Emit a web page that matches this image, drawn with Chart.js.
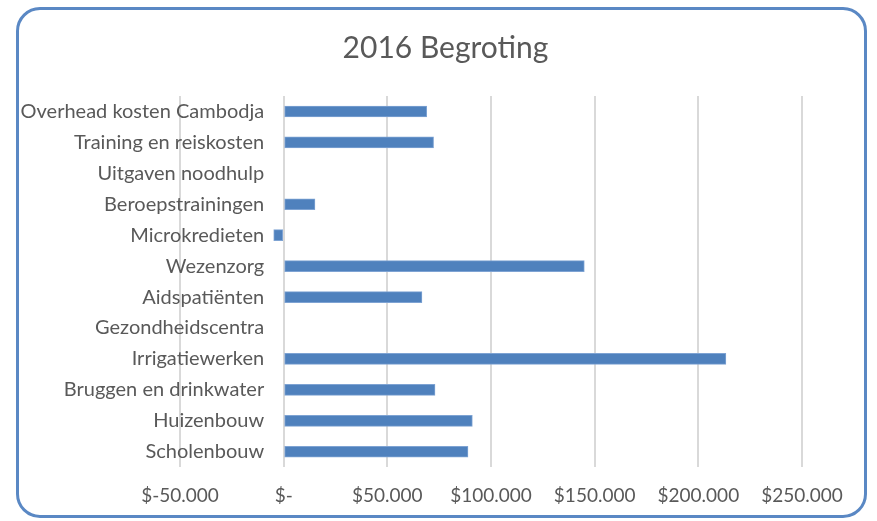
<!DOCTYPE html>
<html>
<head>
<meta charset="utf-8">
<script src="https://cdn.jsdelivr.net/npm/chart.js@4.4.1/dist/chart.umd.min.js"></script>
<style>
    html, body { margin: 0; padding: 0; background: #fff; }
    #wrap { position: relative; width: 877px; height: 521px; }
    #frame {
        position: absolute; left: 16px; top: 7px; width: 851px; height: 511px;
        box-sizing: border-box; border: 3px solid #5A88C4; border-radius: 24px;
        pointer-events: none;
    }
</style>
</head>
<body>
<div id="wrap">
    <canvas id="chart"></canvas>
    <div id="frame"></div>
</div>
<script>
// Chart data
const categories = [
    'Overhead kosten Cambodja',
    'Training en reiskosten',
    'Uitgaven noodhulp',
    'Beroepstrainingen',
    'Microkredieten',
    'Wezenzorg',
    'Aidspatiënten',
    'Gezondheidscentra',
    'Irrigatiewerken',
    'Bruggen en drinkwater',
    'Huizenbouw',
    'Scholenbouw'
];
const budget = [69000, 72300, 0, 15100, -4800, 145000, 66700, 0, 213300, 73000, 91000, 88900];
const axisMin = -50000;
const axisMax = 250000;
const axisStep = 50000;

const textColor = '#595959';
const fontFamily = 'Lato, "Open Sans", sans-serif';

// "$-50.000", "$-", "$100.000"
function formatDollar(value) {
    if (value === 0) return '$-';
    const sign = value < 0 ? '-' : '';
    const digits = Math.abs(value).toString().replace(/\B(?=(\d{3})+(?!\d))/g, '.');
    return '$' + sign + digits;
}

// empty side axes, only there to reserve room so the title stays centred on the whole chart
function spacerAxis(side, width) {
    return {
        type: 'linear',
        position: side,
        ticks: { display: false },
        grid: { display: false, drawTicks: false },
        border: { display: false },
        afterFit: (scale) => { scale.width = width; }
    };
}

const ctx = document.getElementById('chart').getContext('2d');
new Chart(ctx, {
    type: 'bar',
    data: {
        labels: categories,
        datasets: [{
            data: budget,
            backgroundColor: '#4F81BD',
            borderColor: '#7EA3D3',
            borderWidth: 1,
            borderSkipped: false,
            barThickness: 11
        }]
    },
    options: {
        indexAxis: 'y',
        responsive: true,
        maintainAspectRatio: false,
        animation: false,
        layout: {
            padding: { left: 14, right: 0, top: 0, bottom: -3 }
        },
        plugins: {
            legend: { display: false },
            tooltip: { enabled: false },
            title: {
                display: true,
                text: '2016 Begroting',
                color: textColor,
                font: { family: fontFamily, size: 30, weight: 'normal' },
                padding: { top: 30, bottom: 30 }
            }
        },
        scales: {
            x: {
                min: axisMin,
                max: axisMax,
                ticks: {
                    stepSize: axisStep,
                    color: textColor,
                    padding: 17,
                    font: { family: fontFamily, size: 19 },
                    callback: (v) => formatDollar(v)
                },
                grid: { color: '#D9D9D9', lineWidth: 2, drawTicks: false },
                border: { display: false }
            },
            y: {
                // labels end a little left of the $0 line, like the original
                position: { x: -9400 },
                ticks: {
                    color: textColor,
                    font: { family: fontFamily, size: 20 }
                },
                grid: { display: false, drawTicks: false },
                border: { display: false }
            },
            padLeft: spacerAxis('left', 166),
            padRight: spacerAxis('right', 75)
        }
    }
});
</script>
</body>
</html>
